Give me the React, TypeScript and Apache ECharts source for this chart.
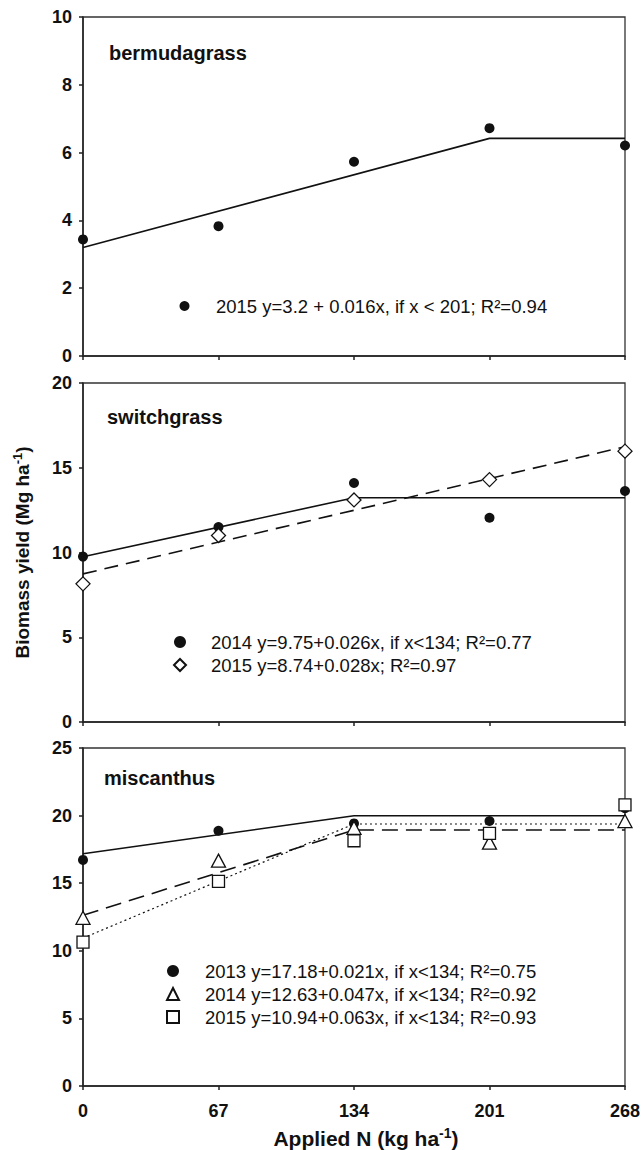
import React, { useEffect, useRef } from "react";
import * as echarts from "echarts";

// ---------- data ----------
const nRates = [0, 67, 134, 201, 268];
const nTicks = { min: 0, max: 268, interval: 67 };

// bermudagrass
const bermuda2015 = [3.44, 3.83, 5.73, 6.72, 6.21];
const bermudaFitX = [0, 201, 268];
const bermudaFitY = [3.2, 6.42, 6.42];

// switchgrass
const switch2014 = [9.76, 11.5, 14.1, 12.05, 13.63];
const switch2015 = [8.15, 11.0, 13.1, 14.3, 15.98];
const switch2014FitX = [0, 134, 268];
const switch2014FitY = [9.75, 13.23, 13.23];
const switch2015FitX = [0, 268];
const switch2015FitY = [8.74, 16.24];

// miscanthus
const misc2013 = [16.72, 18.88, 19.42, 19.6, 20.55];
const misc2014 = [12.44, 16.67, 19.1, 18.0, 19.6];
const misc2015 = [10.64, 15.14, 18.14, 18.68, 20.8];
const miscFitX = [0, 134, 268];
const misc2013FitY = [17.18, 19.99, 19.99];
const misc2014FitY = [12.63, 18.93, 18.93];
const misc2015FitY = [10.94, 19.38, 19.38];

// axes
const yMax = [10, 20, 25];
const yInterval = [2, 5, 5];
const panelNames = ["bermudagrass", "switchgrass", "miscanthus"];

// legend texts
const legBermuda = ["2015 y=3.2 + 0.016x, if x < 201; R²=0.94"];
const legSwitch = ["2014 y=9.75+0.026x, if x<134; R²=0.77", "2015 y=8.74+0.028x; R²=0.97"];
const legMisc = [
  "2013 y=17.18+0.021x, if x<134; R²=0.75",
  "2014 y=12.63+0.047x, if x<134; R²=0.92",
  "2015 y=10.94+0.063x, if x<134; R²=0.93",
];

const FONT = '"Liberation Sans", Arial, Helvetica, sans-serif';
const INK = "#111";

const zip = (xs: number[], ys: number[]) => xs.map((x, i) => [x, ys[i]]);

export default function App() {
  const ref = useRef<HTMLDivElement>(null);

  useEffect(() => {
    document.body.style.margin = "0";
    if (!ref.current) return;
    const chart = echarts.init(ref.current, null, { renderer: "svg" });

    const grids = [
      { left: 83, width: 542, top: 17, height: 339 },
      { left: 83, width: 542, top: 383, height: 339 },
      { left: 83, width: 542, top: 748, height: 338 },
    ].map((g) => ({ ...g, show: true, borderColor: "#333", borderWidth: 1.3, backgroundColor: "transparent" }));

    const axisLineStyle = { color: "#222", width: 1.5 };

    const xAxes = [0, 1, 2].map((i) => ({
      gridIndex: i,
      type: "value",
      min: nTicks.min,
      max: nTicks.max,
      interval: nTicks.interval,
      axisLine: { show: true, lineStyle: axisLineStyle },
      axisTick: { show: true, length: 4, lineStyle: axisLineStyle },
      splitLine: { show: false },
      axisLabel: {
        show: i === 2,
        fontSize: 18,
        fontWeight: "bold",
        fontFamily: FONT,
        color: INK,
        margin: 16,
      },
      ...(i === 2
        ? {
            name: "{b|Applied N (kg ha}{s|-1}{b|)}",
            nameLocation: "middle",
            nameGap: 40,
            nameTextStyle: {
              padding: [0, 0, 0, 24],
              rich: {
                b: { fontSize: 21, fontWeight: "bold", fontFamily: FONT, color: INK, lineHeight: 24 },
                s: { fontSize: 14, fontWeight: "bold", fontFamily: FONT, color: INK, lineHeight: 14, verticalAlign: "top" },
              },
            },
          }
        : {}),
    }));

    const yAxes = [0, 1, 2].map((i) => ({
      gridIndex: i,
      type: "value",
      min: 0,
      max: yMax[i],
      interval: yInterval[i],
      axisLine: { show: true, lineStyle: axisLineStyle },
      axisTick: { show: true, length: 4, lineStyle: axisLineStyle },
      splitLine: { show: false },
      axisLabel: { fontSize: 18, fontWeight: "bold", fontFamily: FONT, color: INK, margin: 11 },
      ...(i === 1
        ? {
            name: "{a|Biomass yield (Mg ha}{s|-1}{a|)}",
            nameLocation: "middle",
            nameGap: 50,
            nameRotate: 90,
            nameTextStyle: {
              rich: {
                a: { fontSize: 19, fontWeight: "bold", fontFamily: FONT, color: INK, lineHeight: 22 },
                s: { fontSize: 13, fontWeight: "bold", fontFamily: FONT, color: INK, lineHeight: 13, verticalAlign: "top" },
              },
            },
          }
        : {}),
    }));

    const dot = { symbol: "circle", symbolSize: 10, itemStyle: { color: INK, opacity: 1 } };
    const hollow = (symbol: string, size: number | number[]) => ({
      symbol,
      symbolSize: size,
      itemStyle: { color: "#fff", borderColor: INK, borderWidth: 1.3, opacity: 1 },
    });

    const scatter = (name: string, idx: number, ys: number[], sym: any) => ({
      type: "scatter",
      name,
      xAxisIndex: idx,
      yAxisIndex: idx,
      data: zip(nRates, ys),
      clip: false,
      z: 4,
      ...sym,
    });
    const fit = (name: string, idx: number, xs: number[], ys: number[], type: any, width = 1.6) => ({
      type: "line",
      name,
      xAxisIndex: idx,
      yAxisIndex: idx,
      data: zip(xs, ys),
      symbol: "none",
      showSymbol: false,
      silent: true,
      clip: false,
      z: 3,
      lineStyle: { color: INK, width, type },
    });

    const series = [
      fit("bermuda fit", 0, bermudaFitX, bermudaFitY, "solid"),
      scatter(legBermuda[0], 0, bermuda2015, dot),

      fit("switch 2014 fit", 1, switch2014FitX, switch2014FitY, "solid"),
      fit("switch 2015 fit", 1, switch2015FitX, switch2015FitY, [14, 8]),
      scatter(legSwitch[0], 1, switch2014, dot),
      scatter(legSwitch[1], 1, switch2015, hollow("diamond", 14)),

      fit("misc 2013 fit", 2, miscFitX, misc2013FitY, "solid"),
      fit("misc 2014 fit", 2, miscFitX, misc2014FitY, [16, 8]),
      fit("misc 2015 fit", 2, miscFitX, misc2015FitY, [2, 3], 1.2),
      scatter(legMisc[0], 2, misc2013, dot),
      scatter(legMisc[1], 2, misc2014, hollow("triangle", [14, 13])),
      scatter(legMisc[2], 2, misc2015, hollow("rect", 12)),
    ];

    const legendBase = {
      orient: "vertical",
      padding: 0,
      itemGap: 3,
      selectedMode: false,
      symbolKeepAspect: true,
    };
    const legText = (pad: number) => ({
      fontSize: 18.5,
      fontFamily: FONT,
      color: INK,
      lineHeight: 20,
      padding: [0, 0, 0, pad],
    });

    const legends = [
      { ...legendBase, left: 179.5, top: 296, itemWidth: 10, itemHeight: 10, textStyle: legText(21.5), data: legBermuda },
      { ...legendBase, left: 173, top: 632, itemWidth: 12, itemHeight: 12, textStyle: legText(20), data: legSwitch },
      { ...legendBase, left: 166, top: 961, itemWidth: 12, itemHeight: 12, textStyle: legText(21), data: legMisc },
    ];

    const labelPos = [
      [109, 53],
      [107, 417],
      [104, 778],
    ];
    const graphic = panelNames.map((t, i) => ({
      type: "text",
      x: labelPos[i][0],
      y: labelPos[i][1],
      silent: true,
      style: {
        text: t,
        fontSize: 20,
        fontWeight: "bold",
        fontFamily: FONT,
        fill: INK,
        verticalAlign: "middle",
      },
    }));

    chart.setOption({
      animation: false,
      backgroundColor: "#fff",
      grid: grids,
      xAxis: xAxes,
      yAxis: yAxes,
      legend: legends,
      series,
      graphic,
    } as any);

    return () => chart.dispose();
  }, []);

  return <div ref={ref} style={{ width: 643, height: 1150 }} />;
}
